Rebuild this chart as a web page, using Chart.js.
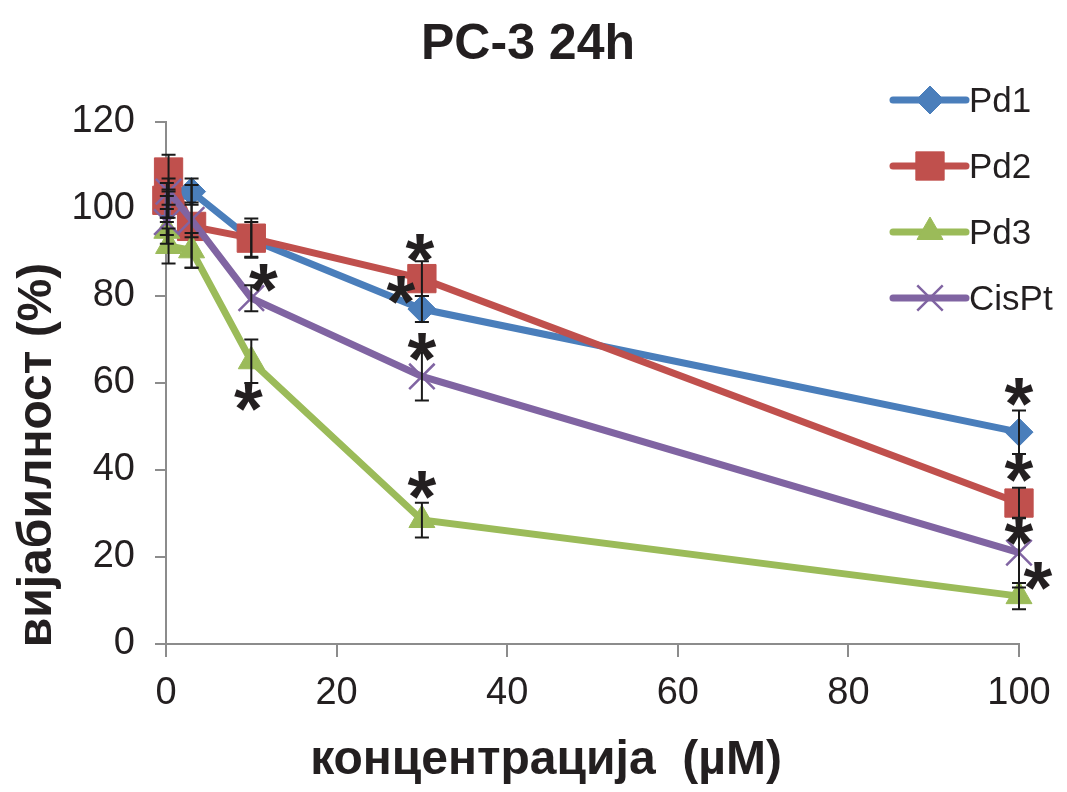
<!DOCTYPE html>
<html>
<head>
<meta charset="utf-8">
<script src="https://cdn.jsdelivr.net/npm/chart.js@4"></script>
<style>
  html, body { margin: 0; padding: 0; background: #fff; }
  #wrap { width: 1067px; height: 792px; position: relative; }
</style>
</head>
<body>
<div id="wrap"><canvas id="pcChart"></canvas></div>
<script>
// concentrations (µM) on the x axis
const concentrations = [0.1, 0.3, 3, 10, 30, 100];

// viability (%) per compound
const pd1 = [100, 101, 104, 93, 77, 48.7];
const pd2 = [102, 108.5, 96, 93.3, 84, 32.4];
const pd3 = [95, 91.5, 90.5, 65, 28.5, 11];
const cisPt = [97, 104, 97.5, 79.5, 61.5, 21];

// error bars (±)
const pd1Err = [3, 3, 3, 4, 3, 5];
const pd2Err = [4, 4, 9.5, 4.5, 4, 3.5];
const pd3Err = [3, 4, 4, 5, 4, 3];
const cisPtErr = [3, 3, 4, 3, 5.5, 8];

// significance marks (*)
const pd1Sig = [false, false, false, false, true, true];
const pd2Sig = [false, false, false, false, true, true];
const pd3Sig = [false, false, false, true, true, true];
const cisPtSig = [false, false, false, true, true, true];

const yTicks = [0, 20, 40, 60, 80, 100, 120];
const xTicks = [0, 20, 40, 60, 80, 100];

const FONT = "'Liberation Sans', Arial, Helvetica, sans-serif";
const INK = "#231f20";

const toXY = (vals) => vals.map((v, i) => ({ x: concentrations[i], y: v }));

// where each asterisk sits relative to its point (px)
const starOffsets = {
    Pd1: { 4: [-21, -19], 5: [0, -40] },
    Pd2: { 4: [-2, -31], 5: [0, -35] },
    Pd3: { 3: [-3, 36], 4: [0, -35], 5: [19, -20] },
    CisPt: { 3: [12, -20], 4: [0, -29], 5: [0, -22] }
};

const extras = {
    id: "extras",
    afterDatasetsDraw(chart) {
        const ctx = chart.ctx;
        const xs = chart.scales.x, ys = chart.scales.y;
        ctx.save();
        // error bars
        ctx.strokeStyle = "#1a1a1a";
        ctx.lineWidth = 2;
        chart.data.datasets.forEach(ds => {
            ds.data.forEach((p, i) => {
                const e = ds.errors[i];
                const px = xs.getPixelForValue(p.x);
                const top = ys.getPixelForValue(p.y + e);
                const bot = ys.getPixelForValue(p.y - e);
                ctx.beginPath();
                ctx.moveTo(px, top); ctx.lineTo(px, bot);
                ctx.moveTo(px - 7, top); ctx.lineTo(px + 7, top);
                ctx.moveTo(px - 7, bot); ctx.lineTo(px + 7, bot);
                ctx.stroke();
            });
        });
        // asterisks
        ctx.fillStyle = INK;
        ctx.font = "bold 74px " + FONT;
        ctx.textAlign = "center";
        ctx.textBaseline = "alphabetic";
        const m = ctx.measureText("*");
        const mid = (m.actualBoundingBoxAscent - m.actualBoundingBoxDescent) / 2;
        chart.data.datasets.forEach(ds => {
            ds.sig.forEach((s, i) => {
                if (!s) return;
                const off = (starOffsets[ds.label] || {})[i] || [0, -30];
                const px = xs.getPixelForValue(ds.data[i].x) + off[0];
                const py = ys.getPixelForValue(ds.data[i].y) + off[1];
                ctx.fillText("*", px, py + mid);
            });
        });
        ctx.restore();
    },
    afterDraw(chart) {
        const ctx = chart.ctx;
        ctx.save();
        ctx.fillStyle = INK;
        // title
        ctx.font = "bold 50px " + FONT;
        ctx.textAlign = "center";
        ctx.textBaseline = "alphabetic";
        ctx.fillText("PC-3 24h", 528, 59);
        // x axis title
        ctx.font = "bold 48px " + FONT;
        ctx.fillText("концентрација  (µM)", 546, 774);
        // y axis title
        ctx.save();
        ctx.translate(51, 455);
        ctx.rotate(-Math.PI / 2);
        ctx.fillText("вијабилност (%)", 0, 0);
        ctx.restore();
        // legend
        ctx.font = "35px " + FONT;
        ctx.textAlign = "left";
        ctx.textBaseline = "middle";
        chart.data.datasets.forEach((ds, k) => {
            const y = 100 + k * 66;
            ctx.strokeStyle = ds.borderColor;
            ctx.lineWidth = 7;
            ctx.lineCap = "round";
            ctx.beginPath();
            ctx.moveTo(893, y); ctx.lineTo(966, y);
            ctx.stroke();
            ctx.fillStyle = ds.pointBackgroundColor;
            ctx.strokeStyle = ds.pointBorderColor;
            ctx.lineWidth = ds.pointBorderWidth;
            ctx.lineCap = "butt";
            Chart.helpers.drawPoint(ctx, {
                pointStyle: ds.pointStyle,
                radius: ds.pointRadius,
                rotation: 0,
                borderWidth: ds.pointBorderWidth
            }, 930, y);
            ctx.fillStyle = INK;
            ctx.fillText(ds.label, 969, y + 2);
        });
        ctx.restore();
    }
};

function series(label, vals, errs, sig, color, style, radius, order, bw) {
    return {
        label: label,
        data: toXY(vals),
        errors: errs,
        sig: sig,
        borderColor: color,
        backgroundColor: color,
        borderWidth: 7,
        pointStyle: style,
        pointRadius: radius,
        pointHoverRadius: radius,
        pointBackgroundColor: color,
        pointBorderColor: color,
        pointBorderWidth: bw,
        tension: 0,
        clip: false,
        order: order
    };
}

new Chart(document.getElementById("pcChart").getContext("2d"), {
    type: "line",
    data: {
        datasets: [
            series("Pd1", pd1, pd1Err, pd1Sig, "#4a7ebb", "rectRot", 14, 4, 1),
            series("Pd2", pd2, pd2Err, pd2Sig, "#c0504d", "rect", 20, 3, 1),
            series("Pd3", pd3, pd3Err, pd3Sig, "#9bbb59", "triangle", 15, 2, 1),
            series("CisPt", cisPt, cisPtErr, cisPtSig, "#8064a2", "crossRot", 18, 1, 2.5)
        ]
    },
    options: {
        responsive: true,
        maintainAspectRatio: false,
        animation: false,
        layout: { padding: { left: 0, right: 48, top: 122, bottom: 0 } },
        scales: {
            x: {
                type: "linear",
                min: 0,
                max: 100,
                afterFit: (s) => { s.height = 148; },
                afterBuildTicks: (s) => { s.ticks = xTicks.map(v => ({ value: v })); },
                grid: { drawOnChartArea: false, drawTicks: true, tickLength: 13, color: "#8c8c8c", lineWidth: 2 },
                border: { color: "#8c8c8c", width: 2 },
                ticks: { color: INK, font: { family: FONT, size: 38 }, padding: 14, maxRotation: 0 }
            },
            y: {
                min: 0,
                max: 120,
                afterFit: (s) => { s.width = 166; },
                afterBuildTicks: (s) => { s.ticks = yTicks.map(v => ({ value: v })); },
                grid: { drawOnChartArea: false, drawTicks: true, tickLength: 11, color: "#8c8c8c", lineWidth: 2 },
                border: { color: "#8c8c8c", width: 2 },
                ticks: { color: INK, font: { family: FONT, size: 38 }, padding: 20 }
            }
        },
        plugins: {
            legend: { display: false },
            title: { display: false },
            tooltip: { enabled: false }
        }
    },
    plugins: [extras]
});
</script>
</body>
</html>
